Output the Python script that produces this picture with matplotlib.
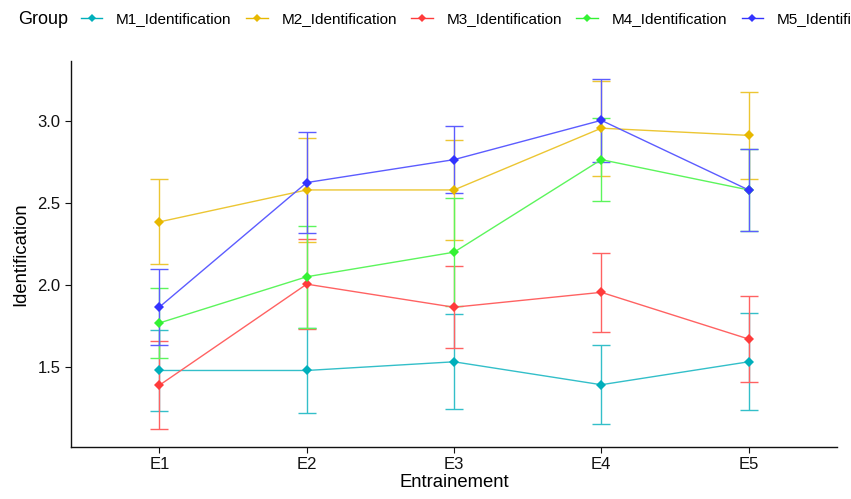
import matplotlib
matplotlib.use("Agg")
import matplotlib.pyplot as plt
from matplotlib.lines import Line2D
import numpy as np

plt.rcParams['font.family'] = ['Liberation Sans', 'DejaVu Sans']

sessions = ["E1", "E2", "E3", "E4", "E5"]
groups = ["M1_Identification", "M2_Identification", "M3_Identification",
          "M4_Identification", "M5_Identification"]
colors = ["#00AFBB", "#E7B800", "#FF3B3B", "#33F233", "#3333FF"]
light = ["#33BFC9", "#ECC633", "#FF6262", "#5CF55C", "#5C5CFF"]

m1_mean = [1.478, 1.478, 1.531, 1.391, 1.531]
m1_err = [0.245, 0.26, 0.29, 0.24, 0.295]
m2_mean = [2.385, 2.580, 2.580, 2.957, 2.913]
m2_err = [0.26, 0.32, 0.305, 0.29, 0.265]
m3_mean = [1.388, 2.005, 1.864, 1.955, 1.670]
m3_err = [0.27, 0.275, 0.25, 0.24, 0.265]
m4_mean = [1.768, 2.050, 2.200, 2.765, 2.580]
m4_err = [0.215, 0.31, 0.33, 0.255, 0.25]
m5_mean = [1.865, 2.625, 2.765, 3.005, 2.580]
m5_err = [0.23, 0.31, 0.205, 0.255, 0.25]

means = [m1_mean, m2_mean, m3_mean, m4_mean, m5_mean]
errs = [m1_err, m2_err, m3_err, m4_err, m5_err]

W, H = 851, 499
fig = plt.figure(figsize=(W / 100, H / 100), dpi=100)
ax = fig.add_axes([71 / W, 1 - 447 / H, (837 - 71) / W, (447 - 61) / H])

x = np.arange(1, len(sessions) + 1)
for mean, err, col, lc in zip(means, errs, colors, light):
    ax.errorbar(x, mean, yerr=err, fmt='none', ecolor=lc, capsize=6.5,
                capthick=1.0, elinewidth=1.0, zorder=2)
    ax.plot(x, mean, color=lc, lw=1.0, zorder=3)
    ax.plot(x, mean, linestyle='none', color=col, marker='D', markersize=5,
            markeredgewidth=0, zorder=4)

allv = np.concatenate([np.array(m) + np.array(e) for m, e in zip(means, errs)] +
                      [np.array(m) - np.array(e) for m, e in zip(means, errs)])
lo, hi = allv.min(), allv.max()
pad = 0.05 * (hi - lo)
ax.set_ylim(lo - pad, hi + pad)
ax.set_xlim(0.4, 5.6)
ax.set_xticks(x)
ax.set_xticklabels(sessions)
ax.set_yticks([1.5, 2.0, 2.5, 3.0])
ax.set_yticklabels(["1.5", "2.0", "2.5", "3.0"])
ax.tick_params(axis='both', labelsize=12, length=4, width=0.8, colors='#111111',
               labelcolor='#111111')
for s in ['top', 'right']:
    ax.spines[s].set_visible(False)
for s in ['left', 'bottom']:
    ax.spines[s].set_linewidth(1.0)
    ax.spines[s].set_color('#111111')
ax.set_xlabel("Entrainement", fontsize=13.3, labelpad=1)
ax.set_ylabel("Identification", fontsize=13.3, labelpad=6)

fig.text(18 / W, 1 - 19 / H, "Group", fontsize=13, va='center', ha='left')
handles = [Line2D([0], [0], color=c, lw=1.0, marker='D', markersize=4,
                  markeredgewidth=0) for c in colors]
fig.legend(handles, groups, loc='center left', bbox_to_anchor=(81 / W, 1 - 19 / H),
           ncol=5, frameon=False, fontsize=11, handlelength=1.4,
           handletextpad=0.9, columnspacing=0.95, borderpad=0, borderaxespad=0)

fig.savefig("out.png", dpi=100)
